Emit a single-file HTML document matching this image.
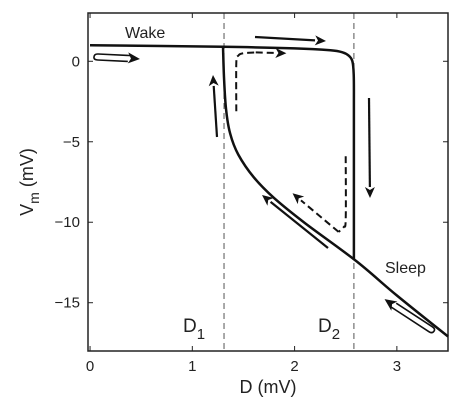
<!DOCTYPE html>
<html><head><meta charset="utf-8"><style>
body{margin:0;background:#fff}
svg{display:block;font-family:"Liberation Sans",sans-serif}
</style></head><body>
<svg id="c" width="472" height="409"></svg>
<script>
const xTicks=[0,1,2,3];
const yTicks=[0,-5,-10,-15];
const upperX=[0,1.3,2.0,2.35,2.47,2.53,2.565,2.578,2.58,2.58];
const upperY=[1.0,0.9,0.8,0.68,0.55,0.35,0.0,-0.8,-3,-12.3];
const lowerX=[1.3,1.31,1.33,1.37,1.45,1.6,1.8,2.1,2.6,3.0,3.5];
const lowerY=[0.9,-1,-3,-4.5,-5.8,-7.2,-8.5,-10.05,-12.4,-14.55,-17.1];
const dash1X=[1.43,1.43,1.45,1.5,1.62,1.92];
const dash1Y=[-3.1,-0.1,0.35,0.5,0.55,0.5];
const dash2X=[2.5,2.5,2.48,2.43,1.98];
const dash2Y=[-5.9,-9.8,-10.3,-10.6,-8.2];
const dividers=[1.31,2.58];
const X0=-0.02,X1=3.5,Y0=-18,Y1=3;
const L=88,R=448,T=13,B=351;
const sx=v=>L+(v-X0)/(X1-X0)*(R-L);
const sy=v=>B-(v-Y0)/(Y1-Y0)*(B-T);
const svg=document.getElementById('c');
const NS='http://www.w3.org/2000/svg';
function mk(tag,attrs,parent){const e=document.createElementNS(NS,tag);for(const k in attrs)e.setAttribute(k,attrs[k]);(parent||svg).appendChild(e);return e;}
function txt(x,y,s,size,anchor,name){const t=mk('text',{x:x,y:y,'font-size':size,'text-anchor':anchor||'middle',fill:'#222'});t.textContent=s;


return t;}
function smooth(xs,ys){const p=xs.map((v,i)=>[sx(v),sy(ys[i])]);let d='M'+p[0][0].toFixed(1)+','+p[0][1].toFixed(1);
for(let i=0;i<p.length-1;i++){const p0=p[Math.max(0,i-1)],p1=p[i],p2=p[i+1],p3=p[Math.min(p.length-1,i+2)];
const c1=[p1[0]+(p2[0]-p0[0])/6,p1[1]+(p2[1]-p0[1])/6],c2=[p2[0]-(p3[0]-p1[0])/6,p2[1]-(p3[1]-p1[1])/6];
d+=` C${c1[0].toFixed(1)},${c1[1].toFixed(1)} ${c2[0].toFixed(1)},${c2[1].toFixed(1)} ${p2[0].toFixed(1)},${p2[1].toFixed(1)}`;}return d;}
dividers.forEach((d,i)=>{const l=mk('line',{x1:sx(d),x2:sx(d),y1:T,y2:B,stroke:'#555','stroke-width':1,'stroke-dasharray':'6,4'});

});
const box=mk('rect',{x:L,y:T,width:R-L,height:B-T,fill:'none',stroke:'#222','stroke-width':1.5});


xTicks.forEach(v=>{const x=sx(v);mk('line',{x1:x,x2:x,y1:B,y2:B-5,stroke:'#222'});mk('line',{x1:x,x2:x,y1:T,y2:T+5,stroke:'#222'});
txt(x,B+20,String(v),15,'middle','x-tick-label');});
yTicks.forEach(v=>{const y=sy(v);mk('line',{x1:L,x2:L+5,y1:y,y2:y,stroke:'#222'});mk('line',{x1:R,x2:R-5,y1:y,y2:y,stroke:'#222'});
txt(L-8,y+5,v<0?'\u2212'+(-v):String(v),15,'end','y-tick-label');});
const up=mk('path',{d:smooth(upperX,upperY),fill:'none',stroke:'#111','stroke-width':2.5,'stroke-linejoin':'round'});


const lo=mk('path',{d:smooth(lowerX,lowerY),fill:'none',stroke:'#111','stroke-width':2.5,'stroke-linejoin':'round'});


const d1=mk('path',{d:smooth(dash1X.slice(0,-1),dash1Y.slice(0,-1)),fill:'none',stroke:'#111','stroke-width':2,'stroke-dasharray':'7,4'});


const d2=mk('path',{d:smooth(dash2X.slice(0,-1),dash2Y.slice(0,-1)),fill:'none',stroke:'#111','stroke-width':2,'stroke-dasharray':'7,4'});


function arrow(x1,y1,x2,y2,name,dashed){const a=Math.atan2(y2-y1,x2-x1),h=11,w=5;
const bx=x2-h*Math.cos(a),by=y2-h*Math.sin(a);
const g=mk('g',{});


mk('line',{x1:x1,y1:y1,x2:bx,y2:by,stroke:'#111','stroke-width':dashed?2:2.2,'stroke-dasharray':dashed?'7,4':'none'},g);
mk('polygon',{points:`${x2},${y2} ${bx-w*Math.sin(a)},${by+w*Math.cos(a)} ${bx+3*Math.cos(a)},${by+3*Math.sin(a)} ${bx+w*Math.sin(a)},${by-w*Math.cos(a)}`,fill:'#111'},g);}
const n1=dash1X.length-1,n2=dash2X.length-1;
arrow(sx(dash1X[n1-1]),sy(dash1Y[n1-1]),sx(dash1X[n1]),sy(dash1Y[n1]),'dashed-arrow-right',true);
arrow(sx(dash2X[n2-1]),sy(dash2Y[n2-1]),sx(dash2X[n2]),sy(dash2Y[n2]),'dashed-arrow-left',true);
arrow(255,37,326,41,'arrow-right-top');
arrow(217,137,213,75,'arrow-up');
arrow(369,98,370,198,'arrow-down');
arrow(328,248,262,195,'arrow-diagonal');
function hollow(x1,y1,x2,y2,name){const a=Math.atan2(y2-y1,x2-x1);const len=Math.hypot(x2-x1,y2-y1);
const g=mk('g',{transform:`translate(${x1},${y1}) rotate(${a*180/Math.PI})`,fill:'none',stroke:'#111','stroke-width':1.6});


mk('path',{d:`M${len-10},-2 L0,-2 Q-4,-2 -4,1.5 Q-4,4 0,4 L${len-12},4`},g);
mk('polygon',{points:`${len},1 ${len-12},-5 ${len-9},1 ${len-12},6`,fill:'#111',stroke:'none'},g);}
hollow(98,56,140,58,'hollow-arrow-wake');
hollow(430,330,384,300,'hollow-arrow-sleep');
txt(125,38,'Wake',16,'start','wake-label');
txt(385,273,'Sleep',16,'start','sleep-label');
const t1=txt(183,332,'D',19,'start','d1-label');const s1=mk('tspan',{dy:7,'font-size':15},t1);s1.textContent='1';
const t2=txt(318,332,'D',19,'start','d2-label');const s2=mk('tspan',{dy:7,'font-size':15},t2);s2.textContent='2';
txt(268,393,'D (mV)',18,'middle','x-axis-title');
const yl=mk('text',{x:0,y:0,'font-size':18,'text-anchor':'middle',fill:'#222',transform:'translate(33,182) rotate(-90)'});


yl.appendChild(document.createTextNode('V'));
const sm=mk('tspan',{dy:6,'font-size':14},yl);sm.textContent='m';
const rest=mk('tspan',{dy:-6},yl);rest.textContent=' (mV)';
</script>
</body></html>
